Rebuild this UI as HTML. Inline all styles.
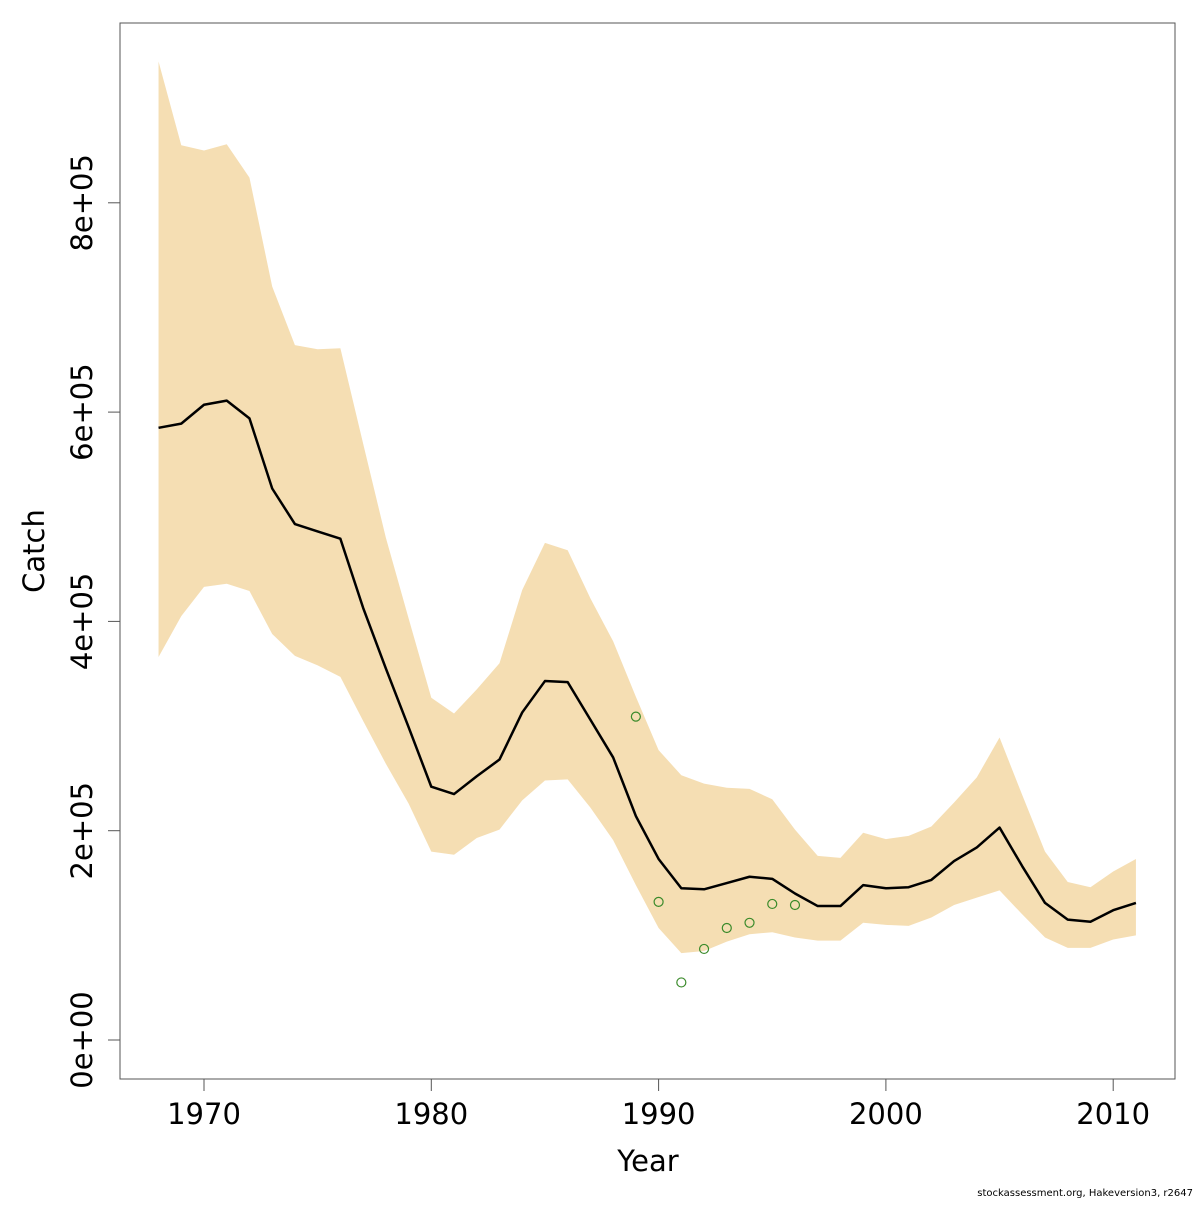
<!DOCTYPE html>
<html><head><meta charset="utf-8"><style>
html,body{margin:0;padding:0;background:#fff;}
svg text{font-family:"DejaVu Sans","Liberation Sans",sans-serif;}
</style></head><body>
<svg id="chart" width="1200" height="1200" xmlns="http://www.w3.org/2000/svg">
<rect x="0" y="0" width="1200" height="1200" fill="#fff"/>
<g id="band"></g><g id="line"></g><g id="pts"></g><g id="axes"></g>
<rect x="120" y="23" width="1055" height="1056" fill="none" stroke="#555" stroke-width="1"/>
<text x="648" y="1171" font-size="29" text-anchor="middle">Year</text>
<text x="44" y="551" font-size="29" text-anchor="middle" transform="rotate(-90 44 551)">Catch</text>
<text x="1193" y="1196" font-size="10" text-anchor="end">stockassessment.org, Hakeversion3, r2647</text>
</svg>
<script>
const years=[];for(let y=1968;y<=2011;y++)years.push(y);
const estimate=[585,589,607,611,594,527,493,486,479,413,355,299,242,235,252,268,313,343,342,306,270,214,173,145,144,150,156,154,140,128,128,148,145,146,153,171,184,203,166,131,115,113,124,131].map(v=>v*1000);
const upper=[935,855,850,856,824,720,664,660,661,570,480,403,327,312,335,360,430,475,468,422,381,328,277,253,245,241,240,230,201,176,174,198,192,195,204,227,251,289,234,180,151,146,161,173].map(v=>v*1000);
const lower=[366,405,433,436,429,388,367,358,347,305,264,226,180,177,193,201,229,248,249,222,191,148,107,83,85,94,101,103,98,95,95,112,110,109,117,129,136,143,120,98,88,88,96,100].map(v=>v*1000);
const obsYears=[1989,1990,1991,1992,1993,1994,1995,1996];
const obsValues=[309,132,55,87,107,112,130,129].map(v=>v*1000);
const xTicks=[1970,1980,1990,2000,2010];
const yTicks=[0,200000,400000,600000,800000];
const yTickLabels=["0e+00","2e+05","4e+05","6e+05","8e+05"];

const X=y=>204+(y-1970)*22.73;
const Y=v=>1040-v*209.3/200000;
const NS="http://www.w3.org/2000/svg";
function mk(t,p,a){const e=document.createElementNS(NS,t);for(const k in a)e.setAttribute(k,a[k]);p.appendChild(e);return e;}

let d=years.map((y,i)=>(i?"L":"M")+X(y)+","+Y(upper[i])).join("");
for(let i=years.length-1;i>=0;i--)d+="L"+X(years[i])+","+Y(lower[i]);
const band=mk("path",document.getElementById("band"),{d:d+"Z",fill:"#F5DEB3"});



const ln=mk("polyline",document.getElementById("line"),{points:years.map((y,i)=>X(y)+","+Y(estimate[i])).join(" "),fill:"none",stroke:"#000","stroke-width":2.5,"stroke-linejoin":"round"});



const pg=document.getElementById("pts");
obsYears.forEach((y,i)=>{
  const c=mk("circle",pg,{cx:X(y),cy:Y(obsValues[i]),r:4.5,fill:"none",stroke:"#3a8a2a","stroke-width":1.2});
  
  
});

const ag=document.getElementById("axes");
xTicks.forEach(t=>{
  mk("line",ag,{x1:X(t),x2:X(t),y1:1079,y2:1091,stroke:"#555"});
  const tx=mk("text",ag,{x:X(t),y:1124,"font-size":29,"text-anchor":"middle"});
  tx.textContent=t;
  
  
});
yTicks.forEach((t,i)=>{
  const y=Y(t);
  mk("line",ag,{x1:108,x2:120,y1:y,y2:y,stroke:"#555"});
  const tx=mk("text",ag,{x:92,y:y,"font-size":29,"text-anchor":"middle",transform:`rotate(-90 92 ${y})`});
  tx.textContent=yTickLabels[i];
  
  
});
</script>
</body></html>
